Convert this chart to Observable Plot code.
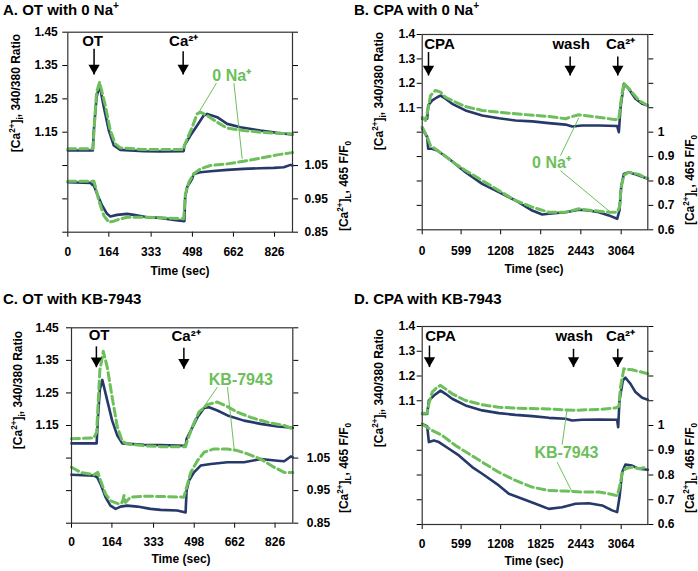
<!DOCTYPE html>
<html><head><meta charset="utf-8">
<script src="https://cdn.jsdelivr.net/npm/d3@7"></script>
<script src="https://cdn.jsdelivr.net/npm/@observablehq/plot@0.6"></script>
<style>
body{margin:0;background:#fff;}
#chart{position:relative;width:698px;height:571px;overflow:hidden;background:#fff;font-family:"Liberation Sans",Arial,sans-serif;}
</style></head><body><div id="chart"></div>
<script>
// ---------- axis ticks ----------
const otTimeTicks = [0, 164, 333, 498, 662, 826];
const cpaTimeTicks = [0, 599, 1208, 1825, 2443, 3064];
const otTimeDomain = [0, 898];
const cpaTimeDomain = [0, 3474];
const otYDomain = [0.85, 1.45];
const cpaYDomain = [0.6, 1.4];
const otYTicks = [0.85, 0.95, 1.05, 1.15, 1.25, 1.35, 1.45];
const otRatioTickLabels = ["", "", "", "1.15", "1.25", "1.35", "1.45"];
const otFluoTickLabels = ["0.85", "0.95", "1.05", "", "", "", ""];
const cpaYTicks = [0.6, 0.7, 0.8, 0.9, 1.0, 1.1, 1.2, 1.3, 1.4];
const cpaRatioTickLabels = ["", "", "", "", "", "1.1", "1.2", "1.3", "1.4"];
const cpaFluoTickLabels = ["0.6", "0.7", "0.8", "0.9", "1", "", "", "", ""];

// ---------- A. OT with 0 Na+ : [time sec, value] ----------
const aCtlRatio = [[0,1.095],[100,1.095],[104,1.155],[115,1.255],[127,1.292],[144,1.225],[164,1.155],[184,1.11],[210,1.097],[304,1.093],[370,1.092],[463,1.093],[466,1.11],[490,1.14],[517,1.17],[543,1.2],[557,1.205],[597,1.195],[637,1.175],[690,1.165],[770,1.155],[836,1.148],[898,1.143]];
const aNaRatio = [[0,1.1],[100,1.1],[106,1.17],[115,1.27],[127,1.3],[150,1.23],[170,1.155],[190,1.115],[210,1.103],[300,1.098],[463,1.098],[466,1.11],[497,1.165],[517,1.205],[530,1.21],[557,1.2],[597,1.18],[637,1.162],[703,1.155],[770,1.15],[836,1.147],[898,1.145]];
const aCtlFluo = [[0,1.0],[91,0.998],[97,0.993],[104,0.99],[117,0.965],[137,0.93],[157,0.905],[170,0.897],[197,0.902],[237,0.905],[264,0.902],[317,0.895],[370,0.893],[424,0.887],[466,0.883],[469,0.955],[477,0.985],[497,1.01],[503,1.025],[530,1.03],[570,1.033],[637,1.037],[703,1.04],[770,1.042],[823,1.043],[863,1.045],[890,1.052],[898,1.05]];
const aNaFluo = [[0,1.003],[104,1.003],[111,0.985],[124,0.945],[144,0.9],[164,0.88],[184,0.883],[210,0.89],[237,0.895],[304,0.895],[370,0.893],[463,0.89],[470,0.965],[484,1.0],[503,1.025],[530,1.04],[570,1.05],[637,1.055],[703,1.063],[770,1.072],[836,1.082],[890,1.088],[898,1.089]];
const aEvents = [{t:99, v:1.41, s:"OT"}, {t:463, v:1.41, s:"Ca²⁺"}];
const aArrows = [{t:105, top:1.40, tip:1.323}, {t:461, top:1.393, tip:1.323}];
const aTag = [{t:655, v:1.318, s:"0 Na⁺"}];
const aLeaders = [{t1:594, v1:1.297, t2:524, v2:1.21}, {t1:664, v1:1.297, t2:697, v2:1.07}];

// ---------- B. CPA with 0 Na+ ----------
const bCtlRatio = [[0,1.055],[77,1.055],[92,1.109],[154,1.13],[231,1.143],[282,1.15],[359,1.137],[462,1.116],[667,1.089],[924,1.068],[1180,1.057],[1437,1.048],[1694,1.044],[1950,1.037],[2207,1.031],[2309,1.023],[2463,1.027],[2720,1.027],[3002,1.025],[3028,1.0],[3054,1.1],[3105,1.198],[3182,1.177],[3284,1.137],[3387,1.116],[3474,1.109]];
const bNaRatio = [[0,1.061],[51,1.048],[92,1.096],[128,1.15],[205,1.171],[282,1.164],[359,1.143],[513,1.123],[667,1.105],[924,1.089],[1437,1.075],[1950,1.064],[2207,1.055],[2309,1.064],[2412,1.071],[2566,1.066],[2771,1.059],[2977,1.051],[3028,1.055],[3054,1.116],[3105,1.201],[3208,1.171],[3336,1.13],[3474,1.109]];
const bCtlFluo = [[0,1.014],[77,0.98],[92,0.932],[154,0.932],[231,0.925],[411,0.891],[667,0.836],[924,0.788],[1180,0.754],[1437,0.72],[1694,0.679],[1848,0.663],[1950,0.666],[2207,0.672],[2412,0.682],[2566,0.679],[2720,0.672],[2874,0.659],[3002,0.645],[3038,0.679],[3064,0.775],[3105,0.829],[3182,0.836],[3284,0.827],[3474,0.809]];
const bNaFluo = [[0,1.02],[77,0.98],[128,0.945],[308,0.911],[513,0.87],[667,0.843],[924,0.802],[1180,0.761],[1437,0.72],[1694,0.693],[1950,0.672],[2207,0.672],[2412,0.686],[2617,0.679],[2874,0.672],[3002,0.672],[3038,0.693],[3064,0.775],[3105,0.823],[3182,0.836],[3336,0.827],[3474,0.809]];
const bEvents = [{t:266, v:1.341, s:"CPA"}, {t:2294, v:1.341, s:"wash"}, {t:3055, v:1.341, s:"Ca²⁺"}];
const bArrows = [{t:97, top:1.328, tip:1.232}, {t:2278, top:1.31, tip:1.232}, {t:3012, top:1.31, tip:1.232}];
const bTag = [{t:1991, v:0.873, s:"0 Na⁺"}];
const bLeaders = [{t1:2130, v1:0.904, t2:2412, v2:1.059}, {t1:2130, v1:0.842, t2:2900, v2:0.672}];

// ---------- C. OT with KB-7943 ----------
const cCtlRatio = [[0,1.095],[102,1.095],[107,1.17],[115,1.26],[125,1.29],[145,1.227],[165,1.165],[186,1.119],[206,1.095],[294,1.091],[362,1.09],[463,1.088],[467,1.109],[484,1.134],[511,1.175],[538,1.204],[558,1.206],[592,1.196],[633,1.181],[700,1.165],[768,1.155],[836,1.147],[898,1.143]];
const cKbRatio = [[0,1.109],[91,1.112],[102,1.13],[115,1.319],[129,1.378],[145,1.329],[165,1.237],[186,1.145],[206,1.102],[226,1.093],[294,1.088],[362,1.085],[463,1.085],[470,1.104],[490,1.145],[517,1.191],[551,1.214],[592,1.222],[633,1.208],[673,1.191],[727,1.175],[795,1.16],[863,1.15],[898,1.14]];
const cCtlFluo = [[0,0.999],[91,0.996],[104,0.991],[118,0.97],[138,0.93],[158,0.904],[179,0.894],[199,0.901],[226,0.904],[267,0.901],[321,0.894],[362,0.891],[429,0.889],[463,0.883],[467,0.95],[477,0.981],[497,1.006],[524,1.027],[565,1.032],[633,1.037],[700,1.037],[768,1.047],[836,1.042],[863,1.04],[890,1.055],[898,1.052]];
const cKbFluo = [[0,1.022],[37,1.006],[91,0.999],[107,1.006],[118,0.981],[138,0.94],[158,0.919],[192,0.909],[206,0.914],[213,0.935],[219,0.914],[240,0.93],[294,0.933],[362,0.932],[456,0.93],[467,0.96],[484,1.006],[511,1.042],[538,1.068],[578,1.078],[633,1.078],[673,1.073],[714,1.063],[768,1.047],[822,1.022],[863,1.006],[898,1.006]];
const cEvents = [{t:112, v:1.413, s:"OT"}, {t:465, v:1.409, s:"Ca²⁺"}];
const cArrows = [{t:101, top:1.393, tip:1.329}, {t:456, top:1.389, tip:1.324}];
const cTag = [{t:687, v:1.291, s:"KB-7943"}];
const cLeaders = [{t1:592, v1:1.268, t2:531, v2:1.201}, {t1:633, v1:1.268, t2:660, v2:1.078}];

// ---------- D. CPA with KB-7943 ----------
const dCtlRatio = [[0,1.047],[77,1.047],[103,1.101],[180,1.121],[282,1.141],[359,1.128],[462,1.108],[667,1.081],[924,1.061],[1180,1.05],[1437,1.043],[1694,1.038],[1950,1.031],[2207,1.027],[2309,1.02],[2463,1.023],[2720,1.024],[3002,1.023],[3018,0.993],[3038,1.101],[3090,1.182],[3130,1.193],[3208,1.168],[3284,1.135],[3387,1.112],[3474,1.104]];
const dKbRatio = [[0,1.05],[77,1.05],[103,1.088],[154,1.135],[231,1.155],[282,1.162],[359,1.148],[462,1.128],[667,1.101],[924,1.084],[1180,1.074],[1437,1.07],[1950,1.067],[2207,1.063],[2361,1.061],[2463,1.063],[2720,1.065],[2977,1.071],[3028,1.077],[3054,1.155],[3105,1.229],[3233,1.225],[3387,1.215],[3474,1.209]];
const dCtlFluo = [[0,1.007],[77,0.996],[103,0.933],[180,0.939],[257,0.933],[411,0.906],[565,0.879],[770,0.832],[924,0.805],[1180,0.758],[1334,0.724],[1540,0.704],[1745,0.684],[1950,0.663],[2155,0.67],[2361,0.684],[2566,0.686],[2771,0.677],[2925,0.657],[3002,0.65],[3038,0.71],[3079,0.811],[3130,0.842],[3233,0.838],[3336,0.825],[3474,0.821]];
const dKbFluo = [[0,1.004],[77,0.993],[154,0.98],[308,0.96],[513,0.919],[718,0.886],[924,0.852],[1180,0.811],[1437,0.778],[1694,0.751],[1950,0.737],[2207,0.735],[2463,0.731],[2720,0.731],[2874,0.724],[3002,0.717],[3038,0.751],[3079,0.805],[3130,0.825],[3233,0.832],[3336,0.825],[3474,0.832]];
const dEvents = [{t:282, v:1.343, s:"CPA"}, {t:2340, v:1.343, s:"wash"}, {t:3053, v:1.343, s:"Ca²⁺"}];
const dArrows = [{t:112, top:1.323, tip:1.236}, {t:2330, top:1.31, tip:1.236}, {t:3012, top:1.31, tip:1.236}];
const dTag = [{t:2222, v:0.889, s:"KB-7943"}];
const dLeaders = [{t1:2155, v1:0.923, t2:2232, v2:1.067}, {t1:2078, v1:0.852, t2:2309, v2:0.731}];

// ---------- drawing ----------
const FONT = '"Liberation Sans", Arial, sans-serif';
const BLUE = "#26396a";
const GREEN = "#6cbf5a";
const chart = document.getElementById("chart");

function drawPanel(cfg) {
  const fmt = labels => d => { const i = cfg.yTicks.findIndex(t => Math.abs(t - d) < 1e-6); return i < 0 ? "" : labels[i]; };
  const ln = (data, o) => Plot.line(data, {x: d => d[0], y: d => d[1], ...o});
  const plot = Plot.plot({
    width: 349, height: cfg.h,
    marginLeft: cfg.ml, marginRight: cfg.mr, marginTop: cfg.mt, marginBottom: cfg.mb,
    x: {domain: cfg.xDomain},
    y: {domain: cfg.yDomain},
    style: {fontFamily: FONT, fontSize: "12px", fontWeight: "bold", color: "#000", background: "transparent", overflow: "visible"},
    marks: [
      Plot.axisX({ticks: cfg.xTicks, tickFormat: d => String(d), tickSize: 5, tickPadding: cfg.xPad, label: null}),
      Plot.axisY({anchor: "left", ticks: cfg.yTicks, tickFormat: fmt(cfg.leftLabels), tickSize: 5, tickPadding: cfg.lPad, label: null}),
      Plot.axisY({anchor: "right", ticks: cfg.yTicks, tickFormat: fmt(cfg.rightLabels), tickSize: 5, tickPadding: cfg.rPad, label: null}),
      ln(cfg.ctlRatio, {stroke: BLUE, strokeWidth: 2.6}),
      ln(cfg.ctlFluo, {stroke: BLUE, strokeWidth: 2.6}),
      ln(cfg.trtRatio, {stroke: GREEN, strokeWidth: 3, strokeDasharray: "8,4"}),
      ln(cfg.trtFluo, {stroke: GREEN, strokeWidth: 3, strokeDasharray: "8,4"}),
      Plot.frame({stroke: "#333", strokeWidth: 1.2}),
      Plot.link(cfg.arrows, {x1: "t", x2: "t", y1: "top", y2: "tip", stroke: "#000", strokeWidth: 1.5}),
      Plot.dot(cfg.arrows, {x: "t", y: "tip", symbol: "triangle", rotate: 180, r: 4.2, fill: "#000", dy: -6.5}),
      Plot.text(cfg.events, {x: "t", y: "v", text: "s", fontSize: 15, fontWeight: "bold", fill: "#000", lineAnchor: "bottom"}),
      Plot.link(cfg.leaders, {x1: "t1", y1: "v1", x2: "t2", y2: "v2", stroke: GREEN, strokeWidth: 1}),
      Plot.text(cfg.tag, {x: "t", y: "v", text: "s", fontSize: 16, fontWeight: "bold", fill: GREEN, lineAnchor: "middle"})
    ]
  });
  plot.style.position = "absolute";
  plot.style.left = cfg.left + "px";
  plot.style.top = cfg.top + "px";
  chart.appendChild(plot);
}

const otCommon = {xDomain: otTimeDomain, xTicks: otTimeTicks, yDomain: otYDomain, yTicks: otYTicks, leftLabels: otRatioTickLabels, rightLabels: otFluoTickLabels};
const cpaCommon = {xDomain: cpaTimeDomain, xTicks: cpaTimeTicks, yDomain: cpaYDomain, yTicks: cpaYTicks, leftLabels: cpaRatioTickLabels, rightLabels: cpaFluoTickLabels};

drawPanel({...otCommon, left: 0, top: 0, h: 285, ml: 67.3, mr: 57, mt: 31.7, mb: 53.3, xPad: 10, lPad: 5, rPad: 7,
  ctlRatio: aCtlRatio, trtRatio: aNaRatio, ctlFluo: aCtlFluo, trtFluo: aNaFluo, events: aEvents, arrows: aArrows, tag: aTag, leaders: aLeaders});
drawPanel({...cpaCommon, left: 349, top: 0, h: 285, ml: 72.7, mr: 50.7, mt: 34, mb: 55.7, xPad: 11.5, lPad: 2, rPad: 5,
  ctlRatio: bCtlRatio, trtRatio: bNaRatio, ctlFluo: bCtlFluo, trtFluo: bNaFluo, events: bEvents, arrows: bArrows, tag: bTag, leaders: bLeaders});
drawPanel({...otCommon, left: 0, top: 285, h: 286, ml: 71, mr: 56.7, mt: 42.3, mb: 48.3, xPad: 9, lPad: 7.7, rPad: 9,
  ctlRatio: cCtlRatio, trtRatio: cKbRatio, ctlFluo: cCtlFluo, trtFluo: cKbFluo, events: cEvents, arrows: cArrows, tag: cTag, leaders: cLeaders});
drawPanel({...cpaCommon, left: 349, top: 285, h: 286, ml: 72.7, mr: 50.7, mt: 41, mb: 47, xPad: 10, lPad: 2, rPad: 5,
  ctlRatio: dCtlRatio, trtRatio: dKbRatio, ctlFluo: dCtlFluo, trtFluo: dKbFluo, events: dEvents, arrows: dArrows, tag: dTag, leaders: dLeaders});

// ---------- overlay text: titles, axis titles ----------
const svg = d3.select(chart).append("svg")
  .attr("width", 698).attr("height", 571)
  .style("position", "absolute").style("left", "0px").style("top", "0px").style("pointer-events", "none")
  .attr("font-family", FONT).attr("font-weight", "bold").attr("fill", "#000");

function rich(x, y, parts, size, opts = {}) {
  const t = svg.append("text").attr("font-size", size).attr("text-anchor", opts.anchor || "start");
  if (opts.rotate) t.attr("transform", `translate(${x},${y}) rotate(-90)`);
  else t.attr("x", x).attr("y", y);
  let prev = 0;
  parts.forEach(p => {
    const off = p.sup ? -size * 0.38 : p.sub ? size * 0.25 : 0;
    const ts = t.append("tspan").text(p.s).attr("dy", off - prev);
    if (p.sup || p.sub) ts.attr("font-size", size * 0.68);
    prev = off;
  });
}
const ratioLabel = [{s: "[Ca"}, {s: "2+", sup: true}, {s: "]"}, {s: "i", sub: true}, {s: ", 340/380 Ratio"}];
const fluoLabel = [{s: "[Ca"}, {s: "2+", sup: true}, {s: "]"}, {s: "L", sub: true}, {s: ", 465 F/F"}, {s: "0", sub: true}];

rich(3, 15, [{s: "A. OT with 0 Na"}, {s: "+", sup: true}], 15);
rich(354, 15, [{s: "B. CPA with 0 Na"}, {s: "+", sup: true}], 15);
rich(3, 304, [{s: "C. OT with KB-7943"}], 15);
rich(354, 304, [{s: "D. CPA with KB-7943"}], 15);

rich(19.5, 93, ratioLabel, 12, {rotate: true, anchor: "middle"});
rich(383, 91, ratioLabel, 12, {rotate: true, anchor: "middle"});
rich(21.5, 390, ratioLabel, 12, {rotate: true, anchor: "middle"});
rich(383, 388, ratioLabel, 12, {rotate: true, anchor: "middle"});
rich(348, 186, fluoLabel, 12, {rotate: true, anchor: "middle"});
rich(694, 180, fluoLabel, 12, {rotate: true, anchor: "middle"});
rich(348, 468, fluoLabel, 12, {rotate: true, anchor: "middle"});
rich(694, 468, fluoLabel, 12, {rotate: true, anchor: "middle"});

rich(180, 275, [{s: "Time (sec)"}], 12, {anchor: "middle"});
rich(534, 273, [{s: "Time (sec)"}], 12, {anchor: "middle"});
rich(181, 563, [{s: "Time (sec)"}], 12, {anchor: "middle"});
rich(534, 565, [{s: "Time (sec)"}], 12, {anchor: "middle"});
</script></body></html>
